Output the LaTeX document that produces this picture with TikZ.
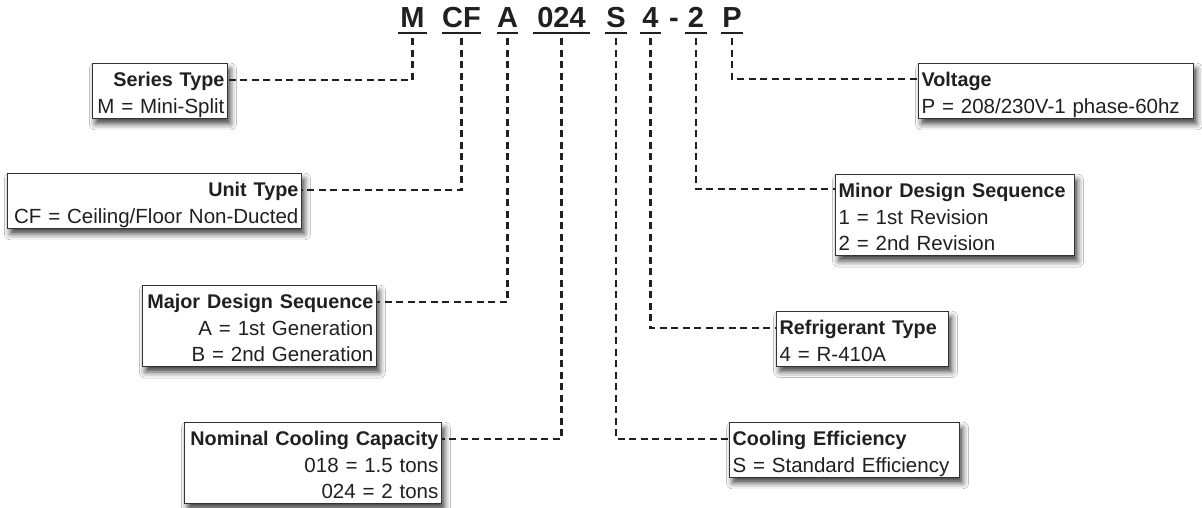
\documentclass[tikz,border=0pt]{standalone}
\usepackage{fontspec}
\setmainfont{Liberation Sans}
\usetikzlibrary{shadows.blur}
\definecolor{ink}{HTML}{231F20}
\definecolor{edge}{HTML}{333333}
\newcommand\bxs{\rule[-4pt]{0pt}{26pt}}
\newcommand\ttl[1]{{\fontsize{19.8}{26.5}\selectfont\bfseries #1}}
\begin{document}
\begin{tikzpicture}[x=1pt,y=-1pt,
  code/.style={font=\fontsize{29}{30}\selectfont\bfseries, text=ink, anchor=base, inner xsep=0pt, inner ysep=10pt, text depth=0pt},
  uline/.style={draw=ink, line width=2.6pt},
  box/.style={draw=edge, line width=1.2pt, fill=white, text=ink, inner xsep=3pt, inner ysep=1pt,
    font=\fontsize{20.5}{26.5}\selectfont,
    blur shadow={shadow xshift=3pt, shadow yshift=-5.5pt, shadow blur radius=6pt, shadow opacity=75}},
  rbox/.style={box, anchor=north east, align=right},
  lbox/.style={box, anchor=north west, align=left},
  conn/.style={draw=ink, line width=2.4pt, dash pattern=on 7pt off 4.5pt}]
\useasboundingbox (0,0) rectangle (1202,508);
\fill[white] (0,0) rectangle (1202,508);

% code letters
\node[code, minimum width=29pt] (m)   at (412.5,28) {M};
\node[code, minimum width=39pt] (cf)  at (461.5,28) {CF};
\node[code, minimum width=21pt] (a)   at (507.5,28) {A};
\node[code, minimum width=57pt] (cap) at (561.5,28) {024};
\node[code, minimum width=22pt] (s)   at (616,28) {S};
\node[code, minimum width=21pt] (rf)  at (650.5,28) {4};
\node[code] (hy) at (674,28) {-};
\node[code, minimum width=22pt] (mn)  at (696,28) {2};
\node[code, minimum width=22pt] (p)   at (732,28) {P};
\foreach \n in {m,cf,a,cap,s,rf,mn,p}
  \draw[uline] ([yshift=-5pt]\n.base west) -- ([yshift=-5pt]\n.base east);

% boxes
\node[rbox, text width=129pt] (st) at (228,63)
  {\bxs\ttl{Series Type}\\\bxs M = Mini-Split};
\node[rbox, text width=288pt] (ut) at (302,173)
  {\bxs\ttl{Unit Type}\\\bxs CF = Ceiling/Floor Non-Ducted};
\node[rbox, text width=228pt] (md) at (377,285)
  {\bxs\ttl{Major Design Sequence}\\\bxs A = 1st Generation\\\bxs B = 2nd Generation};
\node[rbox, text width=251pt] (nc) at (442,422)
  {\bxs\ttl{Nominal Cooling Capacity}\\\bxs 018 = 1.5 tons\\\bxs 024 = 2 tons};
\node[lbox, text width=269pt] (vo) at (918,63)
  {\bxs\ttl{Voltage}\\\bxs P = 208/230V-1 phase-60hz};
\node[lbox, text width=233pt] (mi) at (835,174)
  {\bxs\ttl{Minor Design Sequence}\\\bxs 1 = 1st Revision\\\bxs 2 = 2nd Revision};
\node[lbox, text width=166pt] (rt) at (776,311)
  {\bxs\ttl{Refrigerant Type}\\\bxs 4 = R-410A};
\node[lbox, text width=224pt] (ce) at (729,422)
  {\bxs\ttl{Cooling Efficiency}\\\bxs S = Standard Efficiency};

% connectors
\draw[conn] (m.south)   |- ([yshift=-17pt]st.north east);
\draw[conn] (cf.south)  |- ([yshift=-17pt]ut.north east);
\draw[conn] (a.south)   |- ([yshift=-17pt]md.north east);
\draw[conn] (cap.south) |- ([yshift=-17pt]nc.north east);
\draw[conn] (s.south)   |- ([yshift=-17pt]ce.north west);
\draw[conn] (rf.south)  |- ([yshift=-17pt]rt.north west);
\draw[conn] (mn.south)  |- ([yshift=-15pt]mi.north west);
\draw[conn] (p.south)   |- ([yshift=-16pt]vo.north west);
\end{tikzpicture}
\end{document}
